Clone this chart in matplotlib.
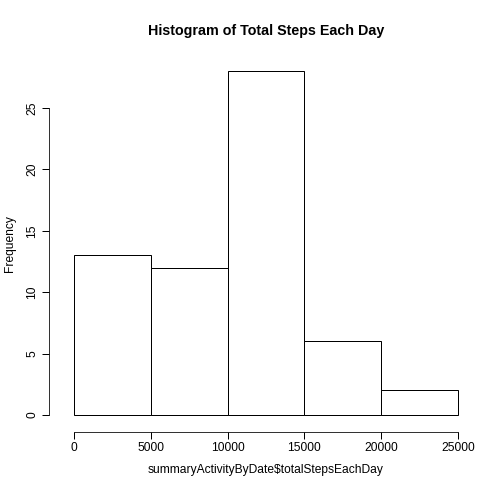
import matplotlib
matplotlib.use("Agg")
import matplotlib.pyplot as plt

bin_edges = [0, 5000, 10000, 15000, 20000, 25000]
counts = [13, 12, 28, 6, 2]
x_ticks = [0, 5000, 10000, 15000, 20000, 25000]
y_ticks = [0, 5, 10, 15, 20, 25]

plt.rcParams['font.family'] = ['Liberation Sans', 'DejaVu Sans']

fig = plt.figure(figsize=(7, 7), dpi=72)
ax = fig.add_axes([0.1163, 0.1494, 0.823, 0.7366])

lefts = bin_edges[:-1]
widths = [b - a for a, b in zip(bin_edges[:-1], bin_edges[1:])]
ax.bar(lefts, counts, width=widths, align='edge', facecolor='white',
       edgecolor='black', linewidth=1)

ax.set_xlim(-1000, 26000)
ax.set_ylim(-0.04 * 28, 28 * 1.04)
for s in ('top', 'right'):
    ax.spines[s].set_visible(False)
ax.spines['left'].set_bounds(0, 25)
ax.spines['bottom'].set_bounds(0, 25000)
ax.spines['left'].set_position(('outward', 10))
ax.spines['bottom'].set_position(('outward', 3))
ax.set_xticks(x_ticks)
ax.set_yticks(y_ticks)
ax.set_xticklabels([str(v) for v in x_ticks], fontsize=12)
ax.set_yticklabels([str(v) for v in y_ticks], fontsize=12, rotation=90, va='center')
ax.tick_params(length=7, width=1)

ax.set_title("Histogram of Total Steps Each Day", fontsize=14.3, fontweight='bold', pad=22)
ax.set_xlabel("summaryActivityByDate$totalStepsEachDay", fontsize=12, labelpad=10)
ax.set_ylabel("Frequency", fontsize=12, labelpad=10)

fig.savefig("out.png", dpi=72)
